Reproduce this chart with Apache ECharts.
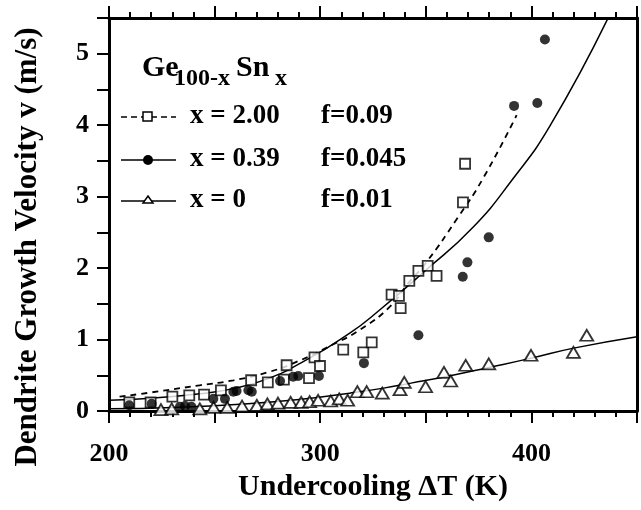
<!DOCTYPE html>
<html>
<head>
<meta charset="utf-8">
<script src="https://cdn.jsdelivr.net/npm/echarts@6/dist/echarts.min.js"></script>
<style>
  html, body { margin: 0; padding: 0; background: #fff; }
  #chart { width: 641px; height: 510px; }
</style>
</head>
<body>
<div id="chart"></div>
<script>
// measured points, [undercooling K, velocity m/s]
const squaresX200 = [[209.6,0.12],[219.7,0.12],[230,0.20],[238,0.22],[245,0.23],[253,0.29],[267.3,0.43],[275.2,0.40],[282.8,0.44],[284.1,0.64],[294.7,0.46],[297.3,0.75],[299.9,0.63],[310.9,0.86],[320.4,0.82],[324.4,0.96],[333.8,1.63],[337.3,1.61],[338.1,1.44],[342.2,1.82],[346.5,1.96],[350.9,2.03],[355.1,1.89],[367.6,2.92],[368.6,3.46]];
const dotsX039 = [[209.6,0.08],[220.2,0.10],[233.6,0.06],[236,0.07],[239,0.06],[249.4,0.17],[254.9,0.17],[258.9,0.27],[260.4,0.28],[266,0.29],[267.6,0.27],[281,0.42],[287.2,0.48],[289.6,0.49],[299.4,0.49],[320.7,0.67],[346.5,1.06],[367.5,1.88],[369.7,2.08],[379.8,2.43],[391.8,4.27],[402.8,4.31],[406.4,5.20]];
const trianglesX0 = [[224.6,0.02],[229.7,0.03],[243,0.03],[249.5,0.05],[256,0.05],[263,0.07],[270,0.08],[275,0.10],[280,0.11],[286,0.12],[291,0.12],[295,0.13],[299,0.15],[305,0.14],[309,0.17],[313,0.15],[317.6,0.27],[322,0.27],[329.4,0.25],[337.8,0.30],[339.8,0.40],[349.9,0.34],[358.6,0.54],[361.8,0.42],[368.9,0.64],[379.8,0.66],[399.8,0.78],[419.9,0.82],[426.2,1.06]];

// fitted curves
const fitX200 = [[205,0.20],[220,0.26],[243,0.36],[259,0.43],[275,0.54],[289,0.69],[306,0.93],[319,1.14],[333,1.46],[342,1.80],[350,2.07],[365,2.70],[377,3.25],[393,4.14]];
const fitX039 = [[200,0.15],[220,0.18],[243,0.24],[260,0.32],[275,0.45],[290,0.66],[314,1.09],[328,1.41],[350,1.97],[372,2.56],[391,3.24],[409,4.00],[436,5.48]];
const fitX0 = [[200,0.03],[230,0.05],[260,0.09],[290,0.16],[314,0.25],[330,0.32],[343,0.39],[361,0.49],[380,0.61],[400,0.74],[420,0.88],[450,1.04]];

const legendRows = ['x = 2.00', 'x = 0.39', 'x = 0'];
const legendF = ['f=0.09', 'f=0.045', 'f=0.01'];

const FONT = '"Liberation Serif", "Times New Roman", serif';
const chart = echarts.init(document.getElementById('chart'));

const txt = (x, y, text, size) => ({
  type: 'text', left: x, top: y,
  style: { text, font: 'bold ' + size + 'px ' + FONT, fill: '#000' }
});
const rowY = [103, 146, 187];
const legendGraphics = [
  txt(142, 53, 'Ge', 30), txt(174, 67, '100-x', 24), txt(236, 53, 'Sn', 30), txt(275, 67, 'x', 24),
  {
    type: 'text', x: 28, y: 247, rotation: Math.PI / 2,
    style: { text: 'Dendrite Growth Velocity v (m/s)', font: 'bold 31px ' + FONT, fill: '#000',
      align: 'center', verticalAlign: 'middle' }
  }
];
legendRows.forEach((r, i) => {
  legendGraphics.push(txt(190, rowY[i], r, 27));
  legendGraphics.push(txt(321, rowY[i], legendF[i], 27));
  const cy = rowY[i] + 14;
  legendGraphics.push({
    type: 'line', shape: { x1: 121, y1: cy, x2: 176, y2: cy },
    style: { stroke: '#000', lineWidth: 1.5, lineDash: i === 0 ? [6, 4] : null }
  });
});
legendGraphics.push({ type: 'rect', shape: { x: 143, y: rowY[0] + 9, width: 9, height: 9 }, style: { fill: '#fff', stroke: '#000', lineWidth: 1.5 } });
legendGraphics.push({ type: 'circle', shape: { cx: 148, cy: rowY[1] + 14, r: 5 }, style: { fill: '#000' } });
legendGraphics.push({ type: 'polygon', shape: { points: [[148, rowY[2] + 9], [153, rowY[2] + 16], [143, rowY[2] + 16]] }, style: { fill: '#fff', stroke: '#000', lineWidth: 1.5 } });

const mkLine = () => ({ show: true, onZero: false, lineStyle: { color: '#000', width: 3 } });
const mkTick = () => ({ show: true, inside: false, length: 12, lineStyle: { color: '#000', width: 2 } });
const mkMinor = () => ({ show: true, splitNumber: 5, length: 6, lineStyle: { color: '#000', width: 2 } });
// v6 seems to skip ticks when splitLine is off, so keep it on but invisible
const hiddenSplit = () => ({ show: true, lineStyle: { color: 'rgba(0,0,0,0)', width: 0 } });

chart.setOption({
  backgroundColor: '#fff',
  animation: false,
  grid: { left: 109, right: 4, top: 18, bottom: 99 },
  xAxis: [{
    type: 'value', min: 200, max: 450, interval: 50, position: 'bottom',
    axisLine: mkLine(), splitLine: hiddenSplit(), axisTick: mkTick(), minorTick: mkMinor(),
    axisLabel: { margin: 30, color: '#000', fontFamily: FONT, fontWeight: 'bold', fontSize: 26,
      formatter: v => (v % 100 === 0 ? String(v) : '') },
    name: 'Undercooling \u0394T (K)', nameLocation: 'middle', nameGap: 55,
    nameTextStyle: { color: '#000', fontFamily: FONT, fontWeight: 'bold', fontSize: 30 }
  }, {
    type: 'value', min: 200, max: 450, interval: 50, position: 'top',
    axisLine: mkLine(), splitLine: hiddenSplit(), axisTick: mkTick(), minorTick: mkMinor(),
    axisLabel: { show: false }
  }],
  yAxis: [{
    type: 'value', min: 0, max: 5.5, interval: 0.5, position: 'left',
    axisLine: mkLine(), splitLine: hiddenSplit(), axisTick: mkTick(),
    axisLabel: { margin: 20, color: '#000', fontFamily: FONT, fontWeight: 'bold', fontSize: 26,
      formatter: v => (v % 1 === 0 ? String(v) : '') }
  }, {
    type: 'value', min: 0, max: 5.5, position: 'right',
    axisLine: mkLine(), splitLine: { show: false }, axisTick: { show: false }, axisLabel: { show: false }
  }],
  graphic: legendGraphics,
  series: [
    { type: 'line', data: fitX0, smooth: true, symbol: 'none', lineStyle: { color: '#000', width: 1.5 }, z: 2 },
    { type: 'line', data: fitX039, smooth: true, symbol: 'none', lineStyle: { color: '#000', width: 1.5 }, z: 2 },
    { type: 'line', data: fitX200, smooth: true, symbol: 'none', lineStyle: { color: '#000', width: 1.8, type: [6, 5] }, z: 2 },
    { type: 'scatter', data: trianglesX0, symbol: 'triangle', symbolSize: [13, 11],
      itemStyle: { color: '#fff', borderColor: '#000', borderWidth: 1.8 }, z: 3 },
    { type: 'scatter', data: squaresX200, symbol: 'rect', symbolSize: 10,
      itemStyle: { color: '#fff', borderColor: '#000', borderWidth: 1.8 }, z: 4 },
    { type: 'scatter', data: dotsX039, symbol: 'circle', symbolSize: 10,
      itemStyle: { color: '#000' }, z: 5 }
  ]
});
</script>
</body>
</html>
